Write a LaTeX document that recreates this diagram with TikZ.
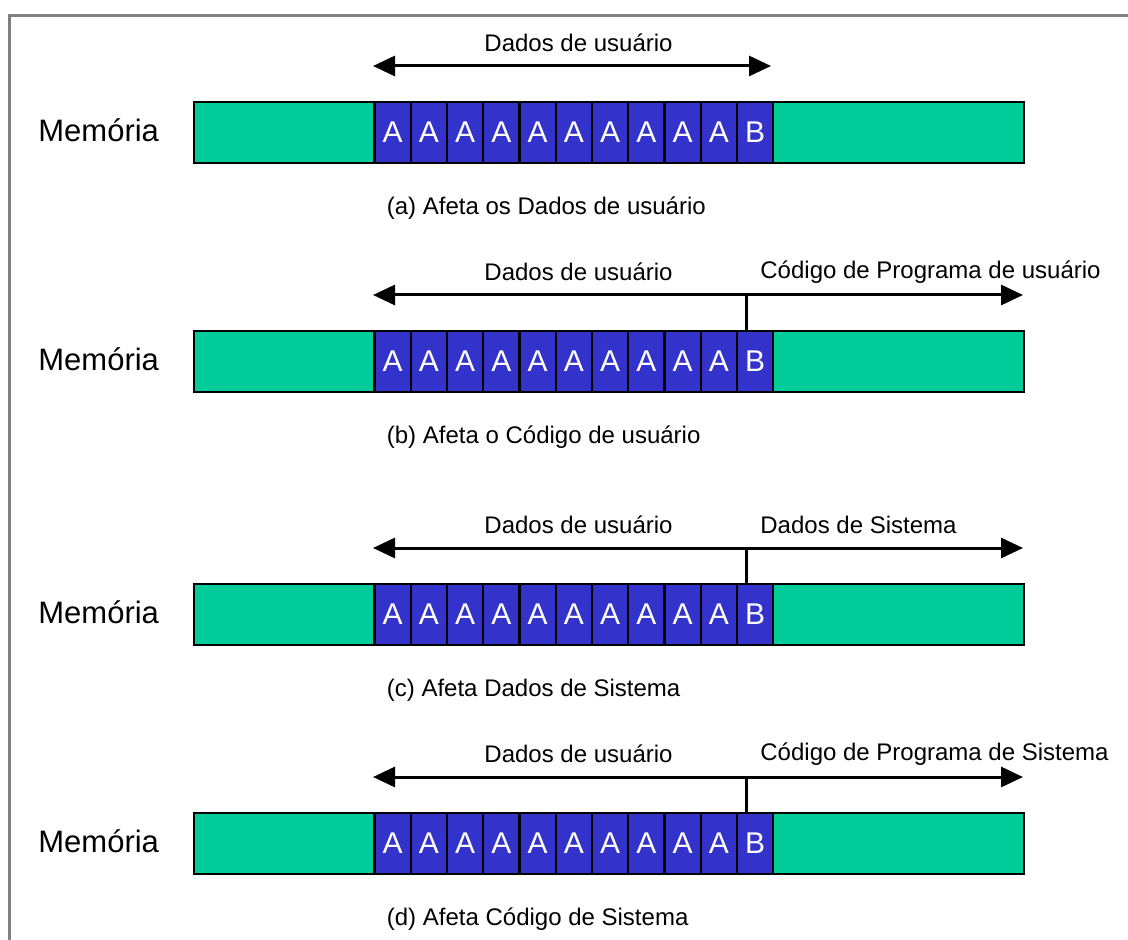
\documentclass[tikz,border=0pt]{standalone}
\usepackage{fontspec}
\setmainfont{Liberation Sans}
\usetikzlibrary{arrows.meta}
\definecolor{memgreen}{RGB}{0,204,153}
\definecolor{memblue}{RGB}{51,51,204}
\definecolor{framegray}{RGB}{128,128,128}
\tikzset{
	bar/.style={draw=black, line width=1pt, fill=memgreen},
	cell/.style={draw=black, line width=1.1pt, fill=memblue, text=white, inner sep=0pt,
		minimum width=18.125pt, minimum height=30.5pt, font=\fontsize{15}{15}\selectfont},
	memlabel/.style={anchor=west, inner sep=0pt, font=\fontsize{15.5}{16}\selectfont},
	txt/.style={inner sep=0pt, font=\fontsize{12}{13}\selectfont},
	dataarrow/.style={line width=1.5pt, {Triangle[length=11pt, width=10pt]}-{Triangle[length=11pt, width=10pt]}},
	tick/.style={line width=1.5pt}
}

\begin{document}
\begin{tikzpicture}[x=0.5pt, y=-0.5pt]
		%%%%% START %%%%%
		\useasboundingbox (0,0) rectangle (1128,940);
		
		\draw[framegray, line width=1.6pt] (9.2,960) -- (9.2,15.7) -- (1150,15.7);
		
		\foreach \r/\y/\cap in {a/102/{(a) Afeta os Dados de usuário},
			b/331/{(b) Afeta o Código de usuário},
			c/584/{(c) Afeta Dados de Sistema},
			d/813/{(d) Afeta Código de Sistema}}{
			\draw[bar] (194,\y) rectangle (1023.5,\y+61);
			\node[memlabel] (mem\r) at (38,\y+28) {Memória};
			\foreach \i in {0,...,9}
				\node[cell] (\r\i) at ({374.5+36.25*(\i+0.5)},\y+30.5) {A};
			\node[cell] (\r B) at ({374.5+36.25*10.5},\y+30.5) {B};
			\node[txt, anchor=west] (cap\r) at (386.5,\y+106) {\cap};
			\node[txt] (usr\r) at (578.5,\y-59) {Dados de usuário};
			\coordinate (l\r) at (373,\y-36);
		}
		
		% only user data reached
		\coordinate (ra) at (771,66);
		\draw[dataarrow] (la) -- (ra);
		
		% overflow runs on past B
		\foreach \r/\y/\lbl in {b/331/{Código de Programa de usuário},
			c/584/{Dados de Sistema},
			d/813/{Código de Programa de Sistema}}{
			\coordinate (r\r) at (1023,\y-36);
			\coordinate (t\r) at (746,\y-36);
			\draw[dataarrow] (l\r) -- (r\r);
			\draw[tick] (t\r) -- (t\r |- \r B.north);
			\node[txt, anchor=west] (sys\r) at (760,\y-59) {\lbl};
		}
		
		%%%%% END %%%%%
	\end{tikzpicture}
\end{document}
